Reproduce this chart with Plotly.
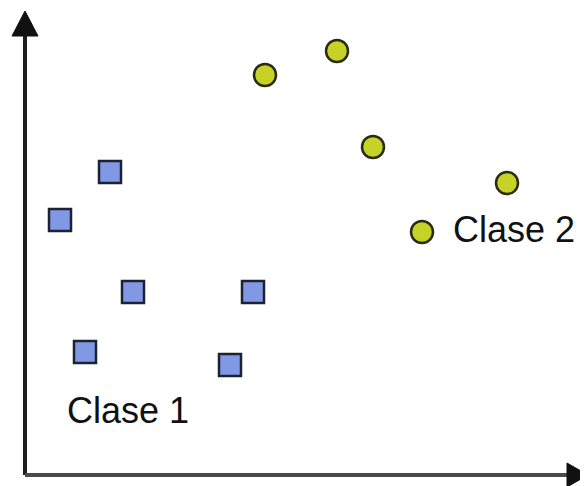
import plotly.graph_objects as go

# Clase 1 (cuadrados azules)
clase1_x = [85, 35, 108, 228, 60, 205]
clase1_y = [303, 255, 183, 183, 123, 110]

# Clase 2 (círculos verde-amarillo)
clase2_x = [240, 312, 348, 482, 397]
clase2_y = [400, 424, 328, 292, 243]

labels = ["Clase 1", "Clase 2"]
label_x = [40, 426]
label_y = [65, 246]

x_max, y_max = 563, 475

fig = go.Figure()

# ejes con flechas
fig.add_shape(type="line", x0=0, y0=0, x1=0, y1=y_max - 30,
              line=dict(color="#1e1e1e", width=4))
fig.add_shape(type="line", x0=0, y0=0, x1=x_max - 20, y1=0,
              line=dict(color="#4a4a4a", width=4))
fig.add_shape(type="path", path=f"M -13,{y_max - 36} L 13,{y_max - 36} L 0,{y_max - 11} Z",
              fillcolor="#111", line=dict(color="#111", width=1))
fig.add_shape(type="path", path=f"M {x_max - 21},-12 L {x_max - 21},12 L {x_max},0 Z",
              fillcolor="#111", line=dict(color="#111", width=1))

fig.add_trace(go.Scatter(
    x=clase1_x, y=clase1_y, mode="markers", name=labels[0],
    marker=dict(symbol="square", size=22, color="#8199e4",
                line=dict(color="#1c2233", width=2.5))
))

fig.add_trace(go.Scatter(
    x=clase2_x, y=clase2_y, mode="markers", name=labels[1],
    marker=dict(symbol="circle", size=22, color="#c6d326",
                line=dict(color="#2b2b14", width=2.5))
))

for t, tx, ty in zip(labels, label_x, label_y):
    fig.add_annotation(x=tx, y=ty, text=t, showarrow=False,
                       xanchor="left", yanchor="middle",
                       font=dict(family="Liberation Sans, Arial", size=36, color="#111"))

# la página deja 8px de margen: figura de 580x478
fig.update_layout(
    width=580, height=478, autosize=False,
    margin=dict(l=0, r=0, t=0, b=0),
    plot_bgcolor="white", paper_bgcolor="white",
    showlegend=False,
    xaxis=dict(range=[-17, x_max], visible=False, fixedrange=True),
    yaxis=dict(range=[-11, y_max - 8], visible=False, fixedrange=True),
)

fig.write_html("out.html")
